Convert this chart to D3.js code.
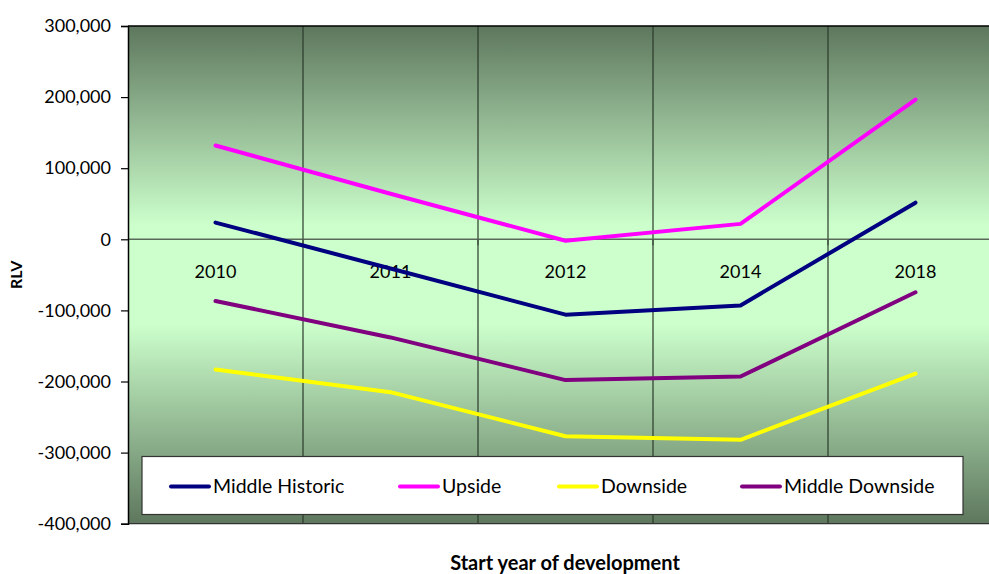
<!DOCTYPE html>
<html>
<head>
<meta charset="utf-8">
<script src="https://cdn.jsdelivr.net/npm/d3@7"></script>
<style>
  html, body { margin: 0; padding: 0; background: #ffffff; }
  svg { display: block; font-family: Lato, "Open Sans", sans-serif; }
</style>
</head>
<body>
<svg id="chart" width="989" height="574"></svg>
<script>
// Start years of development (category axis)
const years = ["2010", "2011", "2012", "2014", "2018"];

// Residual land value per scenario
const middleHistoric = [23500, -41000, -106000, -93000, 51500];
const upside = [132000, 64000, -2000, 21700, 196500];
const downside = [-183000, -215000, -277000, -282000, -189000];
const middleDownside = [-86700, -138000, -198000, -193000, -74500];

// Value axis ticks
const yTicks = [300000, 200000, 100000, 0, -100000, -200000, -300000, -400000];

const seriesNames = ["Middle Historic", "Upside", "Downside", "Middle Downside"];
const seriesColors = ["#000080", "#ff00ff", "#ffff00", "#800080"];
const seriesValues = [middleHistoric, upside, downside, middleDownside];

const series = seriesNames.map((name, i) => ({
  name, color: seriesColors[i],
  values: years.map((yr, j) => ({ year: yr, value: seriesValues[i][j] }))
}));

const svg = d3.select("#chart");
const plotLeft = 128, plotTop = 26, plotW = 875, plotH = 497.7;

const x = d3.scaleBand().domain(years).range([plotLeft, plotLeft + plotW]).paddingInner(0).paddingOuter(0);
const y = d3.scaleLinear().domain([-400000, 300000]).range([plotTop + plotH, plotTop]);

// Plot background: reflected green gradient
const defs = svg.append("defs");
const grad = defs.append("linearGradient").attr("id", "bg")
  .attr("x1", 0).attr("y1", 0).attr("x2", 0).attr("y2", 1);
[[0, "#5e775e"], [0.4, "#ccffcc"], [0.6, "#ccffcc"], [1, "#5e775e"]].forEach(([o, c]) =>
  grad.append("stop").attr("offset", o).attr("stop-color", c));

svg.append("rect")
  .attr("x", plotLeft).attr("y", plotTop).attr("width", plotW).attr("height", plotH)
  .attr("fill", "url(#bg)");

// Vertical gridlines at category boundaries
const bounds = years.slice(1).map(d => x(d));
svg.append("g").selectAll("line").data(bounds).join("line")
  .attr("x1", d => d).attr("x2", d => d)
  .attr("y1", plotTop).attr("y2", plotTop + plotH)
  .attr("stroke", "#2a3a2a").attr("stroke-width", 1.2);

// Plot border (top and bottom)
svg.append("line").attr("x1", plotLeft).attr("x2", plotLeft + plotW)
  .attr("y1", plotTop).attr("y2", plotTop).attr("stroke", "#000").attr("stroke-width", 1.5);
svg.append("line").attr("x1", plotLeft).attr("x2", plotLeft + plotW)
  .attr("y1", plotTop + plotH).attr("y2", plotTop + plotH).attr("stroke", "#333").attr("stroke-width", 1.2);

// Category axis drawn through zero
const xAxisG = svg.append("g").attr("transform", `translate(0,${y(0)})`);
xAxisG.append("line").attr("x1", plotLeft).attr("x2", plotLeft + plotW)
  .attr("y1", 0).attr("y2", 0).attr("stroke", "#5a6a5a").attr("stroke-width", 1.5);
xAxisG.selectAll("line.tick").data(bounds).join("line").attr("class", "tick")
  .attr("x1", d => d).attr("x2", d => d).attr("y1", 0).attr("y2", 6)
  .attr("stroke", "#3a4a3a").attr("stroke-width", 1.2);
xAxisG.selectAll("text").data(years).join("text")
  .attr("x", d => x(d) + x.bandwidth() / 2).attr("y", 39)
  .attr("text-anchor", "middle").attr("font-size", 18).attr("fill", "#000")
  .text(d => d);

// Value axis (plain hyphen for negatives)
const fmt = d3.format(",");
const yAxis = d3.axisLeft(y).tickValues(yTicks).tickSize(7).tickPadding(10)
  .tickFormat(d => fmt(d).replace("\u2212", "-"));
const yAxisG = svg.append("g").attr("transform", `translate(${plotLeft},0)`).call(yAxis);
yAxisG.select(".domain").attr("stroke", "#000").attr("stroke-width", 1.5);
yAxisG.selectAll(".tick line").attr("stroke", "#000").attr("stroke-width", 1.2);
yAxisG.selectAll(".tick text").attr("font-size", 18).attr("fill", "#000")
  .attr("font-family", "Lato, sans-serif");

// Series lines
const line = d3.line().x(d => x(d.year) + x.bandwidth() / 2).y(d => y(d.value));
svg.append("g").selectAll("path").data(series).join("path")
  .attr("d", d => line(d.values))
  .attr("fill", "none").attr("stroke", d => d.color)
  .attr("stroke-width", 4).attr("stroke-linejoin", "round").attr("stroke-linecap", "round");

// Legend
const lg = svg.append("g");
lg.append("rect").attr("x", 142).attr("y", 456.5).attr("width", 821).attr("height", 58)
  .attr("fill", "#fff").attr("stroke", "#333").attr("stroke-width", 1.2);
const legendX = [171, 400, 559, 742];
const items = lg.selectAll("g.item").data(series).join("g").attr("class", "item")
  .attr("transform", (d, i) => `translate(${legendX[i]},486.5)`);
items.append("line").attr("x1", 0).attr("x2", 38).attr("y1", 0).attr("y2", 0)
  .attr("stroke", d => d.color).attr("stroke-width", 4).attr("stroke-linecap", "round");
items.append("text").attr("x", 42).attr("y", 0).attr("dy", "0.35em")
  .attr("font-size", 19.5).attr("fill", "#000").text(d => d.name);

// Axis titles
svg.append("text").attr("transform", `translate(22,${plotTop + plotH / 2}) rotate(-90)`)
  .attr("text-anchor", "middle").attr("font-size", 16).attr("font-weight", "bold")
  .text("RLV");
svg.append("text").attr("x", 565).attr("y", 570)
  .attr("text-anchor", "middle").attr("font-size", 20).attr("font-weight", "bold")
  .text("Start year of development");
</script>
</body>
</html>
